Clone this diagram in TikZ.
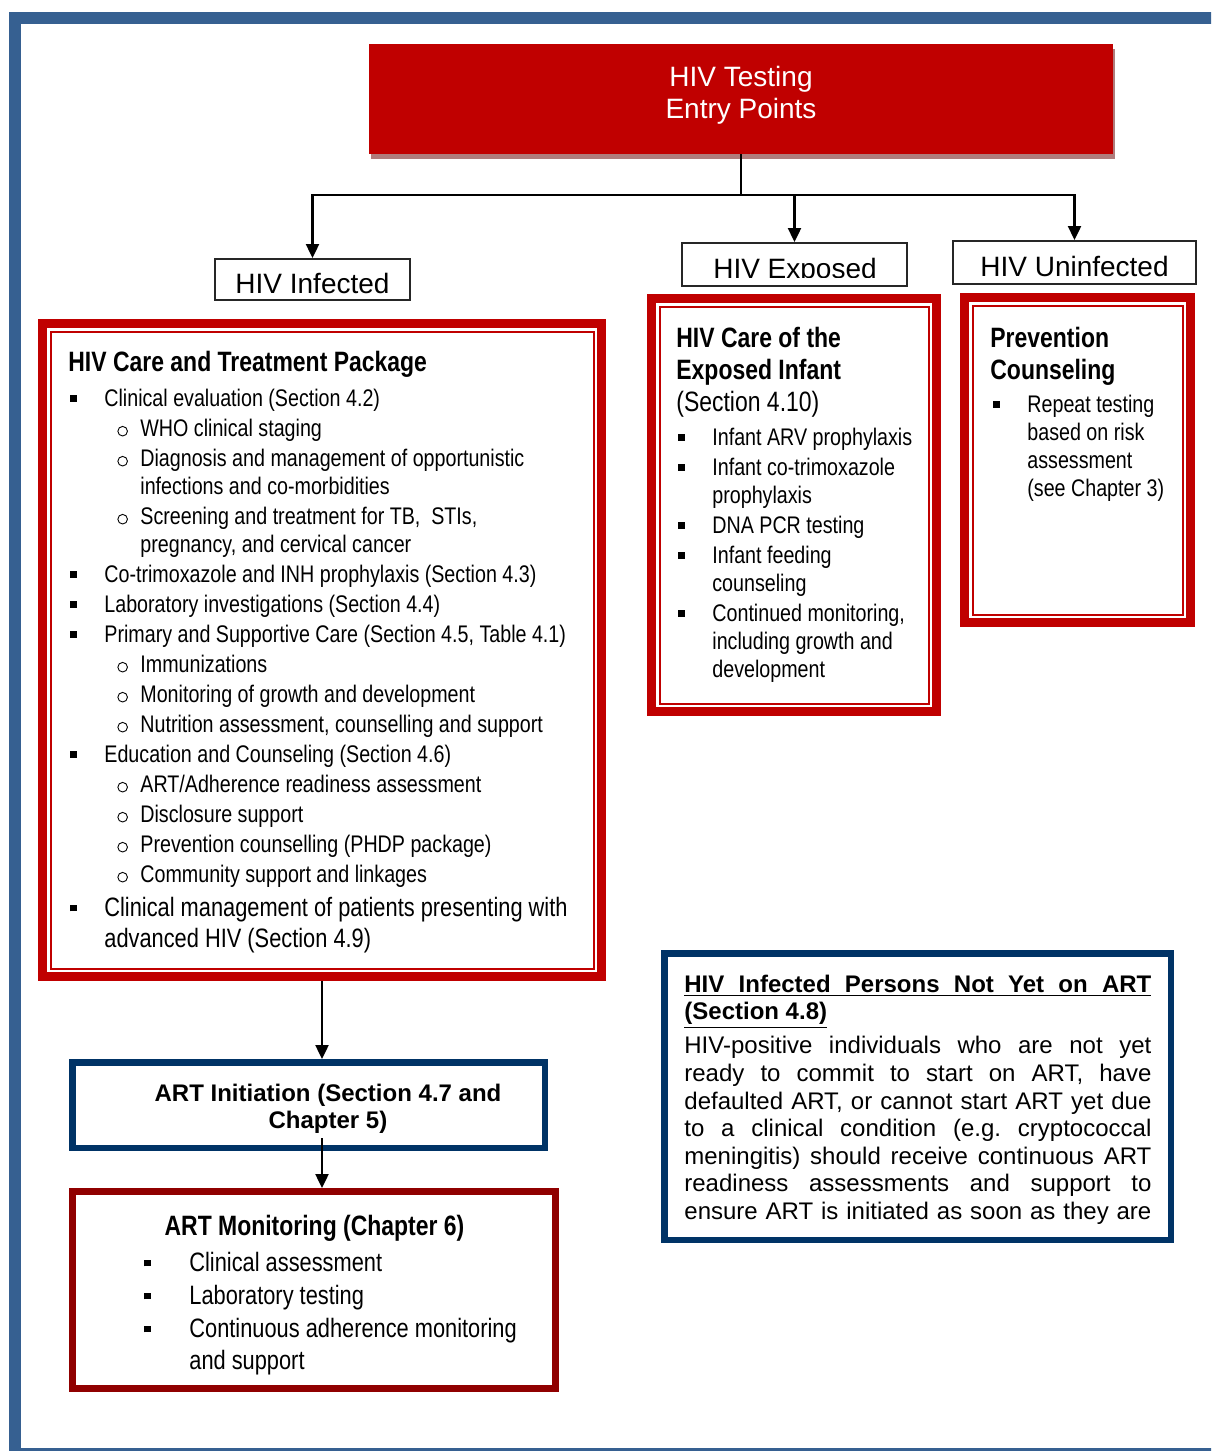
\documentclass[tikz,border=0pt]{standalone}
\usepackage{fontspec}
\newfontfamily\narrowsf[FakeStretch=0.82]{Liberation Sans}
\newfontfamily\arialsf{Liberation Sans}
\usetikzlibrary{arrows.meta,calc,shadows}
\definecolor{hivred}{RGB}{192,0,0}
\definecolor{monred}{RGB}{144,0,0}
\definecolor{navy}{RGB}{0,51,102}
\definecolor{pageblue}{RGB}{54,96,145}
\definecolor{shadowred}{RGB}{176,124,124}
% bullets
\newcommand{\bitem}[1][17pt]{\makebox[#1][l]{\rule[2.6pt]{3.2pt}{3.2pt}}}
\newcommand{\bcont}[1][17pt]{\hspace*{#1}}
\newcommand{\ocirc}{\tikz[baseline=0pt]\draw[line width=0.45pt] (2.4pt,2.8pt) circle[radius=2.4pt];}
\newcommand{\bsub}{\hspace*{23.5pt}\makebox[11.5pt][l]{\ocirc}}
\newcommand{\bsubc}{\hspace*{35pt}}
\newcommand{\jline}[1]{\makebox[233.5pt][s]{#1}}
\begin{document}
\begin{tikzpicture}[x=0.5pt,y=-0.5pt,
  conn/.style={line width=1.2pt},
  arr/.style={conn,-{Triangle[width=6.5pt,length=7pt]}},
  topbox/.style={fill=hivred,inner sep=0pt,outer sep=0pt,anchor=north west,
    drop shadow={fill=shadowred,opacity=1,shadow xshift=1pt,shadow yshift=-2.5pt}},
  lblbox/.style={draw=black!85,line width=1pt,inner sep=0pt,outer sep=0.5pt,anchor=north west},
  lbltxt/.style={inner sep=0pt,anchor=base,font=\arialsf\fontsize{14pt}{16pt}\selectfont},
  redframe/.style={draw=hivred,line width=4.5pt,inner sep=0pt,outer sep=2.25pt,anchor=north west,
    path picture={\draw[hivred,line width=1pt]
      ([shift={(4pt,-4pt)}]path picture bounding box.north west) rectangle
      ([shift={(-4pt,4pt)}]path picture bounding box.south east);}},
  navyframe/.style={draw=navy,line width=3.25pt,inner sep=0pt,outer sep=1.625pt,anchor=north west},
  monframe/.style={draw=monred,line width=3.5pt,inner sep=0pt,outer sep=1.75pt,anchor=north west},
  boxhead/.style={inner sep=0pt,font=\narrowsf\bfseries\fontsize{14pt}{16pt}\selectfont},
  bullist/.style={inner sep=0pt,anchor=north west,align=left,font=\narrowsf\fontsize{12pt}{14pt}\selectfont},
]
\useasboundingbox (0,0) rectangle (1211,1451);

% page frame
\begin{scope}
\clip (0,0) rectangle (1211,1451);
\draw[pageblue,line width=6pt] (15,18) rectangle (1230,1454);
\end{scope}

% entry points
\node[topbox,minimum width=372pt,minimum height=55pt] (entry) at (369,44) {};
\node[inner sep=0pt,anchor=north,align=center,text=white,
  font=\arialsf\fontsize{14pt}{16pt}\selectfont] (entrytxt) at (741,66) {HIV Testing\\Entry Points};

% status labels
\node[lblbox,minimum width=97.5pt,minimum height=20.5pt] (lblinf) at (214,258) {};
\node[lblbox,minimum width=112.5pt,minimum height=21.5pt] (lblexp) at (681,242) {};
\node[lblbox,minimum width=121.5pt,minimum height=21.5pt] (lbluninf) at (952,240) {};
\begin{scope}
\clip (216,250) rectangle (409,293.5);
\node[lbltxt] (tinf) at (312.5,293) {HIV Infected};
\end{scope}
\begin{scope}
\clip (683,240) rectangle (906,277.5);
\node[lbltxt] (texp) at (795,278) {HIV Exposed};
\end{scope}
\begin{scope}
\clip (954,240) rectangle (1195,277);
\node[lbltxt] (tuninf) at (1074.5,276.5) {HIV Uninfected};
\end{scope}

\coordinate (fork) at ($(entry.south)+(0,41)$);
\draw[conn] (entry.south) -- (fork);
\draw[arr] (fork) -| (lblinf.north);
\draw[arr] (fork) -| (lblexp.north);
\draw[arr] (fork) -| (lbluninf.north);

% care and treatment package
\node[redframe,minimum width=279.5pt,minimum height=326.5pt] (care) at (38,319) {};
\node[boxhead,anchor=base west] (caretitle) at (68,371) {HIV Care and Treatment Package};
\node[bullist] (carelist) at (70,389) {%
\bitem Clinical evaluation (Section 4.2)\\[1pt]
\bsub WHO clinical staging\\[1pt]
\bsub Diagnosis and management of opportunistic\\
\bsubc infections and co-morbidities\\[1pt]
\bsub Screening and treatment for TB,\ \ STIs,\\
\bsubc pregnancy, and cervical cancer\\[1pt]
\bitem Co-trimoxazole and INH prophylaxis (Section 4.3)\\[1pt]
\bitem Laboratory investigations (Section 4.4)\\[1pt]
\bitem Primary and Supportive Care (Section 4.5, Table 4.1)\\[1pt]
\bsub Immunizations\\[1pt]
\bsub Monitoring of growth and development\\[1pt]
\bsub Nutrition assessment, counselling and support\\[1pt]
\bitem Education and Counseling (Section 4.6)\\[1pt]
\bsub ART/Adherence readiness assessment\\[1pt]
\bsub Disclosure support\\[1pt]
\bsub Prevention counselling (PHDP package)\\[1pt]
\bsub Community support and linkages};
\node[bullist,font=\narrowsf\fontsize{13.3pt}{15.5pt}\selectfont] (carelast) at (70,897) {%
\bitem Clinical management of patients presenting with\\
\bcont advanced HIV (Section 4.9)};

% exposed infant
\node[redframe,minimum width=142.5pt,minimum height=206.5pt] (expo) at (647,294) {};
\node[boxhead,anchor=north west,align=left] (expotitle) at (676,326.5) {%
HIV Care of the\\Exposed Infant\\{\mdseries (Section 4.10)}};
\node[bullist] (expolist) at (678,428) {%
\bitem Infant ARV prophylaxis\\[1pt]
\bitem Infant co-trimoxazole\\
\bcont prophylaxis\\[1pt]
\bitem DNA PCR testing\\[1pt]
\bitem Infant feeding\\
\bcont counseling\\[1pt]
\bitem Continued monitoring,\\
\bcont including growth and\\
\bcont development};

% uninfected
\node[redframe,minimum width=113pt,minimum height=162.5pt] (prev) at (960,293) {};
\node[boxhead,anchor=north west,align=left] (prevtitle) at (990,326.5) {Prevention\\Counseling};
\node[bullist] (prevlist) at (993,395) {%
\bitem Repeat testing\\
\bcont based on risk\\
\bcont assessment\\
\bcont (see Chapter 3)};

% ART initiation
\node[navyframe,minimum width=236.25pt,minimum height=42.75pt] (init) at (69,1059) {};
\node[inner sep=0pt,anchor=north,align=center,
  font=\arialsf\bfseries\fontsize{12pt}{13.5pt}\selectfont] (inittxt) at (328,1084)
  {ART Initiation (Section 4.7 and\\Chapter 5)};

% ART monitoring
\node[monframe,minimum width=241.5pt,minimum height=98.5pt] (mon) at (69,1188) {};
\node[boxhead,anchor=base] (montitle) at (314.5,1235) {ART Monitoring (Chapter 6)};
\node[bullist,font=\narrowsf\fontsize{13.3pt}{16pt}\selectfont] (monlist) at (144,1252) {%
\bitem[22.5pt]Clinical assessment\\[0.5pt]
\bitem[22.5pt]Laboratory testing\\[0.5pt]
\bitem[22.5pt]Continuous adherence monitoring\\
\bcont[22.5pt]and support};

\draw[arr] (care.south) -- (care.south |- init.north);
\draw[arr] ($(care.south |- init.south)+(0,-13)$) -- (care.south |- mon.north);

% not yet on ART
\node[navyframe,minimum width=253.25pt,minimum height=143.25pt] (notyet) at (661,950) {};
\node[inner sep=0pt,anchor=north west,align=left,
  font=\arialsf\bfseries\fontsize{12pt}{13.5pt}\selectfont] (notyettitle) at (684,975) {%
\underline{\jline{HIV Infected Persons Not Yet on ART}}\\
\underline{(Section 4.8)}};
\node[inner sep=0pt,anchor=north west,align=left,
  font=\arialsf\fontsize{12pt}{13.8pt}\selectfont] (notyettxt) at (684,1036) {%
\jline{HIV-positive individuals who are not yet}\\
\jline{ready to commit to start on ART, have}\\
\jline{defaulted ART, or cannot start ART yet due}\\
\jline{to a clinical condition (e.g.\ cryptococcal}\\
\jline{meningitis) should receive continuous ART}\\
\jline{readiness assessments and support to}\\
\jline{ensure ART is initiated as soon as they are}};
\end{tikzpicture}
\end{document}
